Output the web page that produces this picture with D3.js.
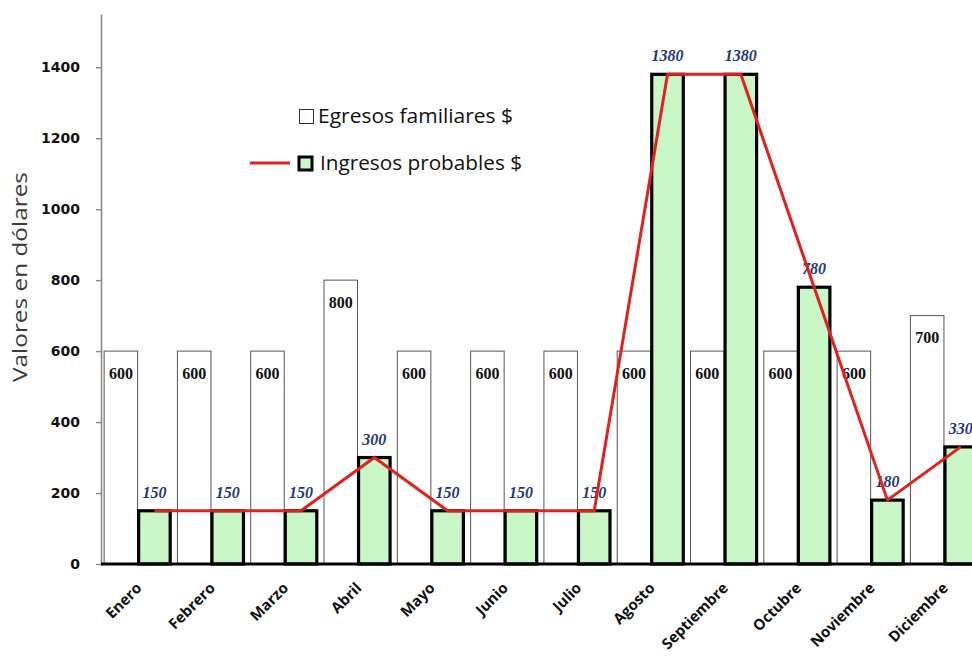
<!DOCTYPE html>
<html>
<head>
<meta charset="utf-8">
<script src="https://cdn.jsdelivr.net/npm/d3@7"></script>
<style>
  html, body { margin: 0; padding: 0; background: #fff; overflow: hidden; }
  svg { display: block; }
</style>
</head>
<body>
<svg id="chart" width="972" height="662"></svg>
<script>
// Monthly family budget: expenses vs. probable income (USD)
const months = ["Enero", "Febrero", "Marzo", "Abril", "Mayo", "Junio", "Julio",
                "Agosto", "Septiembre", "Octubre", "Noviembre", "Diciembre"];
const egresos = [600, 600, 600, 800, 600, 600, 600, 600, 600, 600, 600, 700];
const ingresos = [150, 150, 150, 300, 150, 150, 150, 1380, 1380, 780, 180, 330];
const yTicks = [0, 200, 400, 600, 800, 1000, 1200, 1400];
const seriesNames = ["Egresos familiares $", "Ingresos probables $"];
const yTitle = "Valores en dólares";

const rows = months.map((m, i) => ({ month: m, egresos: egresos[i], ingresos: ingresos[i] }));

const svg = d3.select("#chart");
const plotLeft = 101, plotBottom = 564, plotTop = 14;
const step = 73.3;

const y = d3.scaleLinear().domain([0, 1550]).range([plotBottom, plotTop]);
const x0 = d3.scaleBand().domain(months)
  .range([plotLeft, plotLeft + months.length * step])
  .paddingInner(0.085).paddingOuter(0.0425);
const x1 = d3.scaleBand().domain(["egresos", "ingresos"]).range([0, x0.bandwidth()]);

// Y axis
const yAxis = svg.append("g")
  .attr("transform", `translate(${plotLeft},0)`)
  .call(d3.axisLeft(y).tickValues(yTicks).tickFormat(d3.format("d"))
    .tickSize(5).tickPadding(16).tickSizeOuter(0));
yAxis.select(".domain").attr("stroke", "#8a8a8a").attr("stroke-width", 1.6);
yAxis.selectAll(".tick line").attr("stroke", "#8a8a8a").attr("stroke-width", 1.4);
yAxis.selectAll(".tick text")
  .attr("font-family", "'DejaVu Sans', sans-serif")
  .attr("font-weight", "bold")
  .attr("font-size", 14)
  .attr("fill", "#111");

// Y axis title
svg.append("text")
  .attr("transform", `translate(27,277) rotate(-90)`)
  .attr("text-anchor", "middle")
  .attr("font-family", "'Open Sans', sans-serif")
  .attr("font-size", 20)
  .attr("fill", "#3a3a3a")
  .attr("textLength", 210)
  .attr("lengthAdjust", "spacingAndGlyphs")
  .text(yTitle);

// Bars
const groups = svg.append("g").selectAll("g")
  .data(rows).join("g")
  .attr("transform", d => `translate(${x0(d.month)},0)`);

groups.append("rect")
  .attr("x", x1("egresos"))
  .attr("y", d => y(d.egresos))
  .attr("width", x1.bandwidth())
  .attr("height", d => plotBottom - y(d.egresos))
  .attr("fill", "#fff")
  .attr("stroke", "#555")
  .attr("stroke-width", 1);

groups.append("rect")
  .attr("x", x1("ingresos") + 1)
  .attr("y", d => y(d.ingresos))
  .attr("width", x1.bandwidth() - 2)
  .attr("height", d => plotBottom - y(d.ingresos))
  .attr("fill", "#c8f6c6")
  .attr("stroke", "#000")
  .attr("stroke-width", 3.2);

// Income value labels
groups.append("text")
  .attr("x", x1("ingresos") + x1.bandwidth() / 2)
  .attr("y", d => y(d.ingresos) - 13)
  .attr("text-anchor", "middle")
  .attr("font-family", "'Liberation Serif', serif")
  .attr("font-style", "italic")
  .attr("font-weight", "bold")
  .attr("font-size", 16)
  .attr("fill", "#1f3a78")
  .text(d => d.ingresos);

// X axis baseline
svg.append("line")
  .attr("x1", plotLeft).attr("x2", 972)
  .attr("y1", plotBottom).attr("y2", plotBottom)
  .attr("stroke", "#000").attr("stroke-width", 3.2);

// Income trend line
const line = d3.line()
  .x(d => x0(d.month) + x1("ingresos") + x1.bandwidth() / 2)
  .y(d => y(d.ingresos));
svg.append("path")
  .datum(rows)
  .attr("d", line)
  .attr("fill", "none")
  .attr("stroke", "#e0211e")
  .attr("stroke-width", 3)
  .attr("stroke-linejoin", "round");

// Expense value labels (white backing)
const eLab = groups.append("g")
  .attr("transform", d => `translate(${x1("egresos") + x1.bandwidth() / 2},${y(d.egresos) + 22})`);
eLab.append("rect")
  .attr("x", -14).attr("y", -11).attr("width", 28).attr("height", 20)
  .attr("fill", "#fff");
eLab.append("text")
  .attr("text-anchor", "middle")
  .attr("dy", "0.35em")
  .attr("font-family", "'Liberation Serif', serif")
  .attr("font-weight", "bold")
  .attr("font-size", 16)
  .attr("fill", "#111")
  .text(d => d.egresos);

// Category labels
svg.append("g").selectAll("text")
  .data(months).join("text")
  .attr("transform", d => `translate(${x0(d) + x0.bandwidth() / 2 + 5},${plotBottom + 25}) rotate(-45)`)
  .attr("text-anchor", "end")
  .attr("font-family", "'Open Sans', sans-serif")
  .attr("font-weight", "bold")
  .attr("font-size", 15)
  .attr("fill", "#111")
  .text(d => d);

// Legend
const lg = svg.append("g");
lg.append("rect").attr("x", 299.5).attr("y", 109.5).attr("width", 14).attr("height", 14)
  .attr("fill", "#fff").attr("stroke", "#333").attr("stroke-width", 1);
lg.append("text").attr("x", 318).attr("y", 123)
  .attr("font-family", "'Open Sans', sans-serif").attr("font-size", 20).attr("fill", "#111")
  .attr("textLength", 195).attr("lengthAdjust", "spacingAndGlyphs")
  .text(seriesNames[0]);
lg.append("line").attr("x1", 250).attr("x2", 290).attr("y1", 163).attr("y2", 163)
  .attr("stroke", "#e0211e").attr("stroke-width", 3);
lg.append("rect").attr("x", 299).attr("y", 157).attr("width", 13).attr("height", 13)
  .attr("fill", "#c8f6c6").attr("stroke", "#000").attr("stroke-width", 3);
lg.append("text").attr("x", 320).attr("y", 170)
  .attr("font-family", "'Open Sans', sans-serif").attr("font-size", 20).attr("fill", "#111")
  .attr("textLength", 202).attr("lengthAdjust", "spacingAndGlyphs")
  .text(seriesNames[1]);
</script>
</body>
</html>
